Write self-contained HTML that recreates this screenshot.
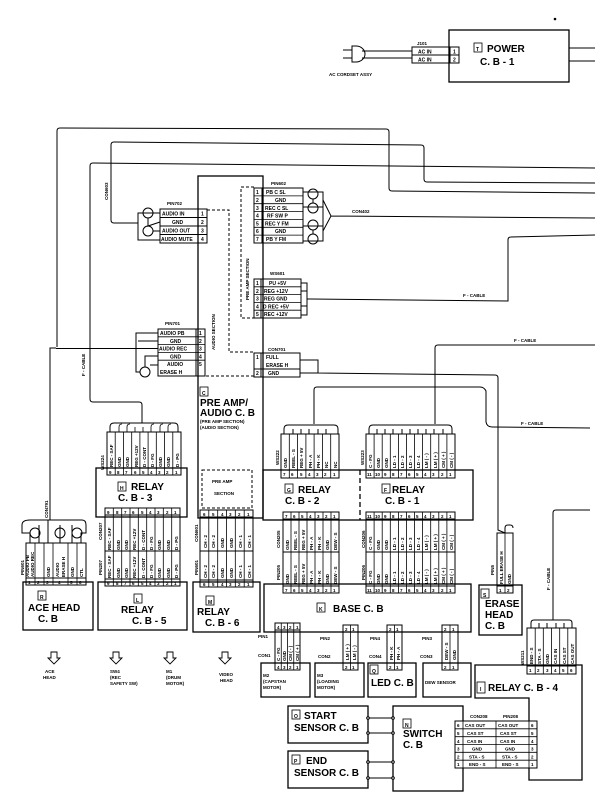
<!DOCTYPE html>
<html><head><meta charset="utf-8"><style>
html,body{margin:0;padding:0;background:#fff;}
svg{display:block;}
text{font-family:"Liberation Sans",sans-serif;font-weight:bold;fill:#000;}
.t{font-size:5px;}
.b{font-size:10px;}
.s{font-size:4.5px;}
</style></head><body>
<svg width="604" height="801" viewBox="0 0 604 801" xmlns="http://www.w3.org/2000/svg" fill="none" stroke="#000" stroke-width="1">
<!-- POWER -->
<rect x="449" y="30" width="120" height="52" stroke-width="1.3"/>
<rect x="474" y="43" width="8" height="9" stroke-width="0.8"/>
<text x="476" y="51" class="t" stroke="none">T</text>
<text x="487" y="52" class="b" stroke="none">POWER</text>
<text x="480" y="65" class="b" stroke="none">C.  B - 1</text>
<line x1="569" y1="48" x2="595" y2="48"/><line x1="569" y1="61" x2="595" y2="61"/>
<rect x="412" y="47" width="47" height="16"/>
<line x1="412" y1="55" x2="459" y2="55"/><line x1="450" y1="47" x2="450" y2="63"/>
<text x="418" y="53.5" class="t" stroke="none">AC  IN</text><text x="418" y="61.5" class="t" stroke="none">AC  IN</text>
<text x="453" y="53.5" class="t" stroke="none">1</text><text x="453" y="61.5" class="t" stroke="none">2</text>
<text x="417" y="45" class="s" stroke="none">J101</text>
<line x1="362" y1="51" x2="412" y2="51"/><line x1="362" y1="58" x2="412" y2="58"/>
<path d="M352 46 L356 46 A9 8 0 0 1 356 62 L352 62 Z"/>
<line x1="343" y1="50" x2="352" y2="50"/><line x1="343" y1="58" x2="352" y2="58"/>
<text x="329" y="76" class="s" stroke="none">AC  CORDSET  ASSY</text>
<!-- top loop lines -->
<path d="M57 347 L57 131 Q57 128 60 128 L386 129 Q389 129 389 132 L389 188 Q389 191 392 191 L595 193"/>
<path d="M138 223 L114 223 Q111 223 111 220 L111 145 Q111 142 114 142 L421 145 Q424 145 424 148 L424 179 Q424 182 427 182 L595 183"/>
<path d="M142 423 L142 405 Q142 402 139 402 L93 402 Q90 402 90 399 L90 166 Q90 163 93 163 L595 168"/>
<text transform="translate(108,200) rotate(-90)" class="s" stroke="none">CON603</text>
<text transform="translate(85,376) rotate(-90)" class="s" stroke="none">F - CABLE</text>
<!-- PRE AMP / AUDIO box -->
<rect x="198" y="176" width="65" height="342" stroke-width="1.3"/>
<rect x="200" y="387" width="8" height="9" stroke-width="0.8"/>
<text x="202" y="395" class="t" stroke="none">C</text>
<text x="200" y="406" class="b" stroke="none">PRE   AMP/</text>
<text x="200" y="416" class="b" stroke="none">AUDIO  C. B</text>
<text x="200" y="423" class="s" stroke="none">(PRE AMP SECTION)</text>
<text x="200" y="429" class="s" stroke="none">(AUDIO SECTION)</text>
<text transform="translate(215,350) rotate(-90)" class="s" stroke="none">AUDIO  SECTION</text>
<text transform="translate(249,300) rotate(-90)" class="s" stroke="none">PRE  AMP  SECTION</text>
<!-- dashed lines -->
<path d="M207 210 L229 210 L229 352 L254 352" stroke-dasharray="3,2"/>
<path d="M206 376 L254 376" stroke-dasharray="3,2"/>
<path d="M254 187 L241 187 L241 318 L254 318" stroke-dasharray="3,2"/>
<!-- PIN702 -->
<text x="167" y="205" class="s" stroke="none">PIN702</text>
<rect x="160" y="209" width="47" height="34"/>
<line x1="160" y1="217.5" x2="207" y2="217.5"/><line x1="160" y1="226" x2="207" y2="226"/><line x1="160" y1="234.5" x2="207" y2="234.5"/>
<line x1="198" y1="209" x2="198" y2="243"/>
<g stroke="none" class="t"><text x="162" y="215.5">AUDIO  IN</text><text x="172" y="224">GND</text><text x="162" y="232.5">AUDIO  OUT</text><text x="161" y="241">AUDIO MUTE</text>
<text x="201" y="215.5">1</text><text x="201" y="224">2</text><text x="201" y="232.5">3</text><text x="201" y="241">4</text></g>
<circle cx="148" cy="213" r="5"/><circle cx="148" cy="231" r="5"/>
<path d="M160 213 L138 213 L138 240 L160 240 M148 218 L148 226 L160 222 M153 231 L160 231"/>
<!-- PIN602 -->
<text x="271" y="185" class="s" stroke="none">PIN602</text>
<rect x="254" y="188" width="49" height="55"/>
<line x1="262" y1="188" x2="262" y2="243"/>
<g stroke-width="0.8"><line x1="254" y1="195.9" x2="303" y2="195.9"/><line x1="254" y1="203.7" x2="303" y2="203.7"/><line x1="254" y1="211.6" x2="303" y2="211.6"/><line x1="254" y1="219.4" x2="303" y2="219.4"/><line x1="254" y1="227.3" x2="303" y2="227.3"/><line x1="254" y1="235.1" x2="303" y2="235.1"/></g>
<g stroke="none" class="t"><text x="256" y="194">1</text><text x="256" y="202">2</text><text x="256" y="210">3</text><text x="256" y="217.5">4</text><text x="256" y="225.5">5</text><text x="256" y="233">6</text><text x="256" y="241">7</text>
<text x="266" y="194">PB  C  SL</text><text x="275" y="202">GND</text><text x="265" y="210">REC C  SL</text><text x="267" y="217.5">RF  SW  P</text><text x="265" y="225.5">REC Y  FM</text><text x="275" y="233">GND</text><text x="266" y="241">PB  Y  FM</text></g>
<circle cx="313" cy="194" r="5"/><circle cx="313" cy="208" r="5"/><circle cx="313" cy="225" r="5"/><circle cx="313" cy="239" r="5"/>
<path d="M303 192 L323 192 L323 241 L303 241 M303 207 L323 207 M303 226 L323 226 M313 199 L313 203 M313 230 L313 234 M323 200 L331 216 L323 231 M331 216 L595 218"/>
<text x="352" y="213" class="s" stroke="none">CON402</text>
<!-- WS601 -->
<text x="270" y="275" class="s" stroke="none">WS601</text>
<rect x="254" y="279" width="47" height="39"/>
<line x1="261" y1="279" x2="261" y2="318"/>
<g stroke-width="0.8"><line x1="254" y1="286.8" x2="301" y2="286.8"/><line x1="254" y1="294.6" x2="301" y2="294.6"/><line x1="254" y1="302.4" x2="301" y2="302.4"/><line x1="254" y1="310.2" x2="301" y2="310.2"/></g>
<g stroke="none" class="t"><text x="256" y="285">1</text><text x="256" y="293">2</text><text x="256" y="300.5">3</text><text x="256" y="308.5">4</text><text x="256" y="316">5</text>
<text x="269" y="285">PU  +5V</text><text x="264" y="293">REG  +12V</text><text x="264" y="300.5">REG  GND</text><text x="263" y="308.5">D  REC  +5V</text><text x="264" y="316">REC +12V</text></g>
<path d="M301 283 L307 283 L307 315 L301 315 M301 291 L307 291 M301 306 L307 306 M307 299 L311 299 L508 301 L508 240 Q508 237 511 237 L595 235"/>
<text x="463" y="297" class="s" stroke="none">F - CABLE</text>
<!-- PIN701 -->
<text x="165" y="325" class="s" stroke="none">PIN701</text>
<rect x="158" y="329" width="47" height="47"/>
<line x1="196" y1="329" x2="196" y2="376"/>
<g stroke-width="0.8"><line x1="158" y1="336.8" x2="205" y2="336.8"/><line x1="158" y1="344.6" x2="205" y2="344.6"/><line x1="158" y1="352.4" x2="205" y2="352.4"/><line x1="158" y1="360.2" x2="205" y2="360.2"/></g>
<g stroke="none" class="t"><text x="160" y="335">AUDIO  PB</text><text x="170" y="343">GND</text><text x="159" y="350.5">AUDIO  REC</text><text x="170" y="358.5">GND</text><text x="167" y="366">AUDIO</text><text x="160" y="374">ERASE  H</text>
<text x="199" y="335">1</text><text x="199" y="343">2</text><text x="199" y="350.5">3</text><text x="199" y="358.5">4</text><text x="199" y="366">5</text></g>
<circle cx="145" cy="372" r="5"/>
<path d="M158 333 L136 333 L136 372 L140 372 M158 341 L138 341 M158 356 L145 356 L145 367 M158 365 L150 365 M158 348.5 L56 348.5"/>
<!-- CON701 -->
<text x="268" y="351" class="s" stroke="none">CON701</text>
<rect x="254" y="353" width="46" height="24"/>
<line x1="261" y1="353" x2="261" y2="377"/><line x1="254" y1="369" x2="300" y2="369"/>
<g stroke="none" class="t"><text x="256" y="359">1</text><text x="256" y="375">2</text><text x="266" y="359">FULL</text><text x="266" y="367">ERASE  H</text><text x="268" y="375">GND</text></g>
<path d="M300 360 L318 360 L318 373 L300 373 M318 373 L495 375 Q498 375 498 378 L498 530 L505 533"/>
<path d="M435 424 L435 348 Q435 345 438 345 L595 345"/>
<text x="514" y="342" class="s" stroke="none">F - CABLE</text>
<path d="M314 424 L314 390 Q314 387 317 387 L480 387 Q484 387 486 391 L486 422 Q487 427 492 427 L590 428"/>
<text x="521" y="425" class="s" stroke="none">F - CABLE</text>
<!-- WS224 + H RELAY -->
<text transform="translate(104,470) rotate(-90)" class="s" stroke="none">WS224</text>
<path d="M110 432 L110 427 Q110 423 114 423 L174 423 Q178 423 178 427 L178 432"/>
<g stroke-width="0.8"><path d="M119 432 L119 427 Q119 424 122 424 M127 432 L127 427 Q127 424 130 424 M135 432 L135 427 M143 432 L143 427 M151 432 L151 427 Q151 424 154 424 M160 432 L160 427 Q160 424 163 424 M168 432 L168 427 Q168 424 171 424"/></g>
<rect x="96" y="468" width="91" height="49" stroke-width="1.3"/>
<rect x="107" y="432" width="74" height="43"/>
<line x1="107" y1="468" x2="181" y2="468"/>
<g stroke-width="0.8"><line x1="115.2" y1="432" x2="115.2" y2="475"/><line x1="123.4" y1="432" x2="123.4" y2="475"/><line x1="131.7" y1="432" x2="131.7" y2="475"/><line x1="139.9" y1="432" x2="139.9" y2="475"/><line x1="148.1" y1="432" x2="148.1" y2="475"/><line x1="156.3" y1="432" x2="156.3" y2="475"/><line x1="164.6" y1="432" x2="164.6" y2="475"/><line x1="172.8" y1="432" x2="172.8" y2="475"/></g>
<g stroke="none" class="s">
<text transform="translate(113,467) rotate(-90)">REC - SAF</text><text transform="translate(121,467) rotate(-90)">GND</text><text transform="translate(129,467) rotate(-90)">GND</text><text transform="translate(138,467) rotate(-90)">REG +12V</text><text transform="translate(146,467) rotate(-90)">D - CONT</text><text transform="translate(154,467) rotate(-90)">D - FG</text><text transform="translate(162,467) rotate(-90)">GND</text><text transform="translate(170,467) rotate(-90)">GND</text><text transform="translate(179,467) rotate(-90)">D - PG</text>
<text x="109" y="474">9</text><text x="117" y="474">8</text><text x="125" y="474">7</text><text x="134" y="474">6</text><text x="142" y="474">5</text><text x="150" y="474">4</text><text x="158" y="474">3</text><text x="166" y="474">2</text><text x="175" y="474">1</text></g>
<rect x="118" y="482" width="8" height="9" stroke-width="0.8"/>
<text x="120" y="490" class="t" stroke="none">H</text>
<text x="131" y="490" class="b" stroke="none">RELAY</text>
<text x="118" y="501" class="b" stroke="none">C.  B - 3</text>
<!-- CON207/PIN207 + L -->
<rect x="98" y="582" width="89" height="48" stroke-width="1.3"/>
<rect x="105" y="508" width="75" height="78"/>
<line x1="105" y1="515" x2="180" y2="515"/><line x1="105" y1="551" x2="180" y2="551"/><line x1="105" y1="579" x2="180" y2="579"/>
<g stroke-width="0.8"><line x1="113.3" y1="508" x2="113.3" y2="586"/><line x1="121.7" y1="508" x2="121.7" y2="586"/><line x1="130" y1="508" x2="130" y2="586"/><line x1="138.3" y1="508" x2="138.3" y2="586"/><line x1="146.7" y1="508" x2="146.7" y2="586"/><line x1="155" y1="508" x2="155" y2="586"/><line x1="163.3" y1="508" x2="163.3" y2="586"/><line x1="171.7" y1="508" x2="171.7" y2="586"/></g>
<text transform="translate(102,540) rotate(-90)" class="s" stroke="none">CON207</text>
<text transform="translate(102,575) rotate(-90)" class="s" stroke="none">PIN207</text>
<g stroke="none" class="s">
<text transform="translate(111,550) rotate(-90)">REC - SAF</text><text transform="translate(120,550) rotate(-90)">GND</text><text transform="translate(128,550) rotate(-90)">GND</text><text transform="translate(136,550) rotate(-90)">REC +12V</text><text transform="translate(145,550) rotate(-90)">D - CONT</text><text transform="translate(153,550) rotate(-90)">D - FG</text><text transform="translate(161,550) rotate(-90)">GND</text><text transform="translate(170,550) rotate(-90)">GND</text><text transform="translate(178,550) rotate(-90)">D - PG</text>
<text transform="translate(111,578) rotate(-90)">REC - SAF</text><text transform="translate(120,578) rotate(-90)">GND</text><text transform="translate(128,578) rotate(-90)">GND</text><text transform="translate(136,578) rotate(-90)">REC +12V</text><text transform="translate(145,578) rotate(-90)">D - CONT</text><text transform="translate(153,578) rotate(-90)">D - FG</text><text transform="translate(161,578) rotate(-90)">GND</text><text transform="translate(170,578) rotate(-90)">GND</text><text transform="translate(178,578) rotate(-90)">D - PG</text>
<text x="107" y="514">9</text><text x="116" y="514">8</text><text x="124" y="514">7</text><text x="132" y="514">6</text><text x="141" y="514">5</text><text x="149" y="514">4</text><text x="157" y="514">3</text><text x="166" y="514">2</text><text x="174" y="514">1</text>
<text x="107" y="585">9</text><text x="116" y="585">8</text><text x="124" y="585">7</text><text x="132" y="585">6</text><text x="141" y="585">5</text><text x="149" y="585">4</text><text x="157" y="585">3</text><text x="166" y="585">2</text><text x="174" y="585">1</text></g>
<rect x="134" y="594" width="8" height="9" stroke-width="0.8"/>
<text x="136" y="602" class="t" stroke="none">L</text>
<text x="121" y="613" class="b" stroke="none">RELAY</text>
<text x="132" y="624" class="b" stroke="none">C.  B - 5</text>
<!-- ACE HEAD -->
<text transform="translate(48,518) rotate(-90)" class="s" stroke="none">CON791</text>
<path d="M56 348 L50 348 L50 520"/>
<rect x="23" y="582" width="70" height="48" stroke-width="1.3"/>
<rect x="26" y="543" width="60" height="42"/>
<line x1="26" y1="578" x2="86" y2="578"/>
<g stroke-width="0.8"><line x1="35" y1="543" x2="35" y2="585"/><line x1="44" y1="543" x2="44" y2="585"/><line x1="53" y1="543" x2="53" y2="585"/><line x1="68" y1="543" x2="68" y2="585"/><line x1="77" y1="543" x2="77" y2="585"/></g>
<g stroke="none" class="s">
<text transform="translate(29,577) rotate(-90)">AUDIO  PB</text><text transform="translate(34,577) rotate(-90)">AUDIO  REC</text><text transform="translate(50,577) rotate(-90)">GND</text><text transform="translate(59,577) rotate(-90)">AUDIO</text><text transform="translate(65,577) rotate(-90)">ERASE  H</text><text transform="translate(74,577) rotate(-90)">GND</text><text transform="translate(83,577) rotate(-90)">CTL</text>
<text x="28" y="584">1</text><text x="37" y="584">2</text><text x="46" y="584">3</text><text x="58" y="584">4</text><text x="70" y="584">5</text><text x="79" y="584">6</text></g>
<text transform="translate(24,575) rotate(-90)" class="s" stroke="none">PIN601</text>
<path d="M30 543 L30 533 L22 533 L22 525 Q22 520 30 520 L82 520 Q86 520 86 525 L86 533 L81 533 L81 543 M39 543 L39 525 M48 543 L48 520 M60 543 L60 525 M72 543 L72 525"/>
<circle cx="35" cy="533" r="5"/><circle cx="60" cy="533" r="5"/><circle cx="77" cy="533" r="5"/>
<rect x="38" y="591" width="8" height="9" stroke-width="0.8"/>
<text x="40" y="599" class="t" stroke="none">R</text>
<text x="28" y="611" class="b" stroke="none">ACE   HEAD</text>
<text x="38" y="622" class="b" stroke="none">C.  B</text>
<!-- M RELAY -->
<rect x="202" y="470" width="50" height="38" stroke-dasharray="3,2"/>
<text x="212" y="483" class="s" stroke="none">PRE   AMP</text>
<text x="214" y="495" class="s" stroke="none">SECTION</text>
<rect x="193" y="582" width="67" height="50" stroke-width="1.3"/>
<rect x="200" y="510" width="53" height="77"/>
<line x1="200" y1="517" x2="253" y2="517"/><line x1="200" y1="551" x2="253" y2="551"/><line x1="200" y1="580" x2="253" y2="580"/>
<g stroke-width="0.8"><line x1="208.8" y1="510" x2="208.8" y2="587"/><line x1="217.7" y1="510" x2="217.7" y2="587"/><line x1="226.5" y1="510" x2="226.5" y2="587"/><line x1="235.3" y1="510" x2="235.3" y2="587"/><line x1="244.2" y1="510" x2="244.2" y2="587"/></g>
<text transform="translate(198,542) rotate(-90)" class="s" stroke="none">CON601</text>
<text transform="translate(198,575) rotate(-90)" class="s" stroke="none">PIN601</text>
<g stroke="none" class="s">
<text transform="translate(207,548) rotate(-90)">CH - 2</text><text transform="translate(215,548) rotate(-90)">CH - 2</text><text transform="translate(224,548) rotate(-90)">GND</text><text transform="translate(233,548) rotate(-90)">GND</text><text transform="translate(242,548) rotate(-90)">CH - 1</text><text transform="translate(251,548) rotate(-90)">CH - 1</text>
<text transform="translate(207,578) rotate(-90)">CH - 2</text><text transform="translate(215,578) rotate(-90)">CH - 2</text><text transform="translate(224,578) rotate(-90)">GND</text><text transform="translate(233,578) rotate(-90)">GND</text><text transform="translate(242,578) rotate(-90)">CH - 1</text><text transform="translate(251,578) rotate(-90)">CH - 1</text>
<text x="203" y="516">6</text><text x="212" y="516">5</text><text x="221" y="516">4</text><text x="229" y="516">3</text><text x="238" y="516">2</text><text x="247" y="516">1</text>
<text x="203" y="586">6</text><text x="212" y="586">5</text><text x="221" y="586">4</text><text x="229" y="586">3</text><text x="238" y="586">2</text><text x="247" y="586">1</text></g>
<rect x="206" y="596" width="8" height="9" stroke-width="0.8"/>
<text x="208" y="604" class="t" stroke="none">M</text>
<text x="197" y="615" class="b" stroke="none">RELAY</text>
<text x="205" y="626" class="b" stroke="none">C.  B - 6</text>
<!-- G/F RELAY -->
<rect x="263" y="470" width="210" height="50" stroke-width="1.3"/>
<line x1="360" y1="470" x2="360" y2="520" stroke-dasharray="5,3" stroke-width="1.3"/>
<text transform="translate(279,465) rotate(-90)" class="s" stroke="none">WS222</text>
<text transform="translate(364,465) rotate(-90)" class="s" stroke="none">WS223</text>
<path d="M284 434 L284 429 Q284 425 288 425 L334 425 Q338 425 338 429 L338 434 M293 434 L293 429 M301 434 L301 429 M309 434 L309 429 M318 434 L318 429 M326 434 L326 429"/>
<path d="M369 434 L369 429 Q369 425 373 425 L448 425 Q452 425 452 429 L452 434 M377 434 L377 429 M385 434 L385 429 M393 434 L393 429 M402 434 L402 429 M410 434 L410 429 M418 434 L418 429 M426 434 L426 429 M434 434 L434 429 M443 434 L443 429"/>
<rect x="281" y="434" width="58" height="44"/><line x1="281" y1="470" x2="339" y2="470"/>
<g stroke-width="0.8"><line x1="289.3" y1="434" x2="289.3" y2="478"/><line x1="297.6" y1="434" x2="297.6" y2="478"/><line x1="305.9" y1="434" x2="305.9" y2="478"/><line x1="314.1" y1="434" x2="314.1" y2="478"/><line x1="322.4" y1="434" x2="322.4" y2="478"/><line x1="330.7" y1="434" x2="330.7" y2="478"/></g>
<g stroke="none" class="s">
<text transform="translate(287,468) rotate(-90)">GND</text><text transform="translate(295,468) rotate(-90)">REEL - S</text><text transform="translate(303,468) rotate(-90)">REG + 5V</text><text transform="translate(312,468) rotate(-90)">PH - A</text><text transform="translate(320,468) rotate(-90)">PH - K</text><text transform="translate(328,468) rotate(-90)">NC</text><text transform="translate(337,468) rotate(-90)">NC</text>
<text x="283" y="476">7</text><text x="291" y="476">6</text><text x="300" y="476">5</text><text x="308" y="476">4</text><text x="316" y="476">3</text><text x="324" y="476">2</text><text x="333" y="476">1</text></g>
<rect x="366" y="434" width="89" height="44"/><line x1="366" y1="470" x2="455" y2="470"/>
<g stroke-width="0.8"><line x1="374.1" y1="434" x2="374.1" y2="478"/><line x1="382.2" y1="434" x2="382.2" y2="478"/><line x1="390.3" y1="434" x2="390.3" y2="478"/><line x1="398.4" y1="434" x2="398.4" y2="478"/><line x1="406.5" y1="434" x2="406.5" y2="478"/><line x1="414.5" y1="434" x2="414.5" y2="478"/><line x1="422.6" y1="434" x2="422.6" y2="478"/><line x1="430.7" y1="434" x2="430.7" y2="478"/><line x1="438.8" y1="434" x2="438.8" y2="478"/><line x1="446.9" y1="434" x2="446.9" y2="478"/></g>
<g stroke="none" class="s">
<text transform="translate(372,468) rotate(-90)">C - FG</text><text transform="translate(380,468) rotate(-90)">GND</text><text transform="translate(388,468) rotate(-90)">GND</text><text transform="translate(396,468) rotate(-90)">LD - 1</text><text transform="translate(404,468) rotate(-90)">LD - 2</text><text transform="translate(412,468) rotate(-90)">LD - 3</text><text transform="translate(420,468) rotate(-90)">LD - 4</text><text transform="translate(428,468) rotate(-90)">LM ( - )</text><text transform="translate(437,468) rotate(-90)">LM ( + )</text><text transform="translate(445,468) rotate(-90)">CM ( + )</text><text transform="translate(453,468) rotate(-90)">CM ( - )</text>
<text x="367" y="476">11</text><text x="375" y="476">10</text><text x="384" y="476">9</text><text x="392" y="476">8</text><text x="400" y="476">7</text><text x="408" y="476">6</text><text x="416" y="476">5</text><text x="424" y="476">4</text><text x="432" y="476">3</text><text x="441" y="476">2</text><text x="449" y="476">1</text></g>
<rect x="285" y="484" width="8" height="9" stroke-width="0.8"/>
<text x="287" y="492" class="t" stroke="none">G</text>
<text x="298" y="493" class="b" stroke="none">RELAY</text>
<text x="285" y="504" class="b" stroke="none">C.  B - 2</text>
<rect x="382" y="484" width="8" height="9" stroke-width="0.8"/>
<text x="384" y="492" class="t" stroke="none">F</text>
<text x="392" y="493" class="b" stroke="none">RELAY</text>
<text x="385" y="504" class="b" stroke="none">C.  B - 1</text>
<!-- CON205/PIN205 -->
<text transform="translate(280,548) rotate(-90)" class="s" stroke="none">CON205</text>
<text transform="translate(280,580) rotate(-90)" class="s" stroke="none">PIN205</text>
<text transform="translate(365,548) rotate(-90)" class="s" stroke="none">CON206</text>
<text transform="translate(365,580) rotate(-90)" class="s" stroke="none">PIN206</text>
<rect x="283" y="512" width="56" height="81"/>
<line x1="283" y1="519" x2="339" y2="519"/><line x1="283" y1="552" x2="339" y2="552"/><line x1="283" y1="586" x2="339" y2="586"/>
<g stroke-width="0.8"><line x1="291" y1="512" x2="291" y2="593"/><line x1="299" y1="512" x2="299" y2="593"/><line x1="307" y1="512" x2="307" y2="593"/><line x1="315" y1="512" x2="315" y2="593"/><line x1="323" y1="512" x2="323" y2="593"/><line x1="331" y1="512" x2="331" y2="593"/></g>
<g stroke="none" class="s">
<text transform="translate(289,550) rotate(-90)">GND</text><text transform="translate(297,550) rotate(-90)">REEL - S</text><text transform="translate(305,550) rotate(-90)">REG + 5V</text><text transform="translate(313,550) rotate(-90)">PH - A</text><text transform="translate(321,550) rotate(-90)">PH - K</text><text transform="translate(329,550) rotate(-90)">GND</text><text transform="translate(337,550) rotate(-90)">DEW - S</text>
<text transform="translate(289,584) rotate(-90)">GND</text><text transform="translate(297,584) rotate(-90)">REEL - S</text><text transform="translate(305,584) rotate(-90)">REG + 5V</text><text transform="translate(313,584) rotate(-90)">PH - A</text><text transform="translate(321,584) rotate(-90)">PH - K</text><text transform="translate(329,584) rotate(-90)">GND</text><text transform="translate(337,584) rotate(-90)">DEW - S</text>
<text x="285" y="518">7</text><text x="293" y="518">6</text><text x="301" y="518">5</text><text x="309" y="518">4</text><text x="317" y="518">3</text><text x="325" y="518">2</text><text x="333" y="518">1</text>
<text x="285" y="592">7</text><text x="293" y="592">6</text><text x="301" y="592">5</text><text x="309" y="592">4</text><text x="317" y="592">3</text><text x="325" y="592">2</text><text x="333" y="592">1</text></g>
<rect x="366" y="512" width="89" height="81"/>
<line x1="366" y1="519" x2="455" y2="519"/><line x1="366" y1="552" x2="455" y2="552"/><line x1="366" y1="586" x2="455" y2="586"/>
<g stroke-width="0.8"><line x1="374.1" y1="512" x2="374.1" y2="593"/><line x1="382.2" y1="512" x2="382.2" y2="593"/><line x1="390.3" y1="512" x2="390.3" y2="593"/><line x1="398.4" y1="512" x2="398.4" y2="593"/><line x1="406.5" y1="512" x2="406.5" y2="593"/><line x1="414.5" y1="512" x2="414.5" y2="593"/><line x1="422.6" y1="512" x2="422.6" y2="593"/><line x1="430.7" y1="512" x2="430.7" y2="593"/><line x1="438.8" y1="512" x2="438.8" y2="593"/><line x1="446.9" y1="512" x2="446.9" y2="593"/></g>
<g stroke="none" class="s">
<text transform="translate(372,550) rotate(-90)">C - FG</text><text transform="translate(380,550) rotate(-90)">GND</text><text transform="translate(388,550) rotate(-90)">GND</text><text transform="translate(396,550) rotate(-90)">LD - 1</text><text transform="translate(404,550) rotate(-90)">LD - 2</text><text transform="translate(412,550) rotate(-90)">LD - 3</text><text transform="translate(420,550) rotate(-90)">LD - 4</text><text transform="translate(428,550) rotate(-90)">LM ( - )</text><text transform="translate(437,550) rotate(-90)">LM ( + )</text><text transform="translate(445,550) rotate(-90)">CM ( + )</text><text transform="translate(453,550) rotate(-90)">CM ( - )</text>
<text transform="translate(372,584) rotate(-90)">C - FG</text><text transform="translate(380,584) rotate(-90)">GND</text><text transform="translate(388,584) rotate(-90)">GND</text><text transform="translate(396,584) rotate(-90)">LD - 1</text><text transform="translate(404,584) rotate(-90)">LD - 2</text><text transform="translate(412,584) rotate(-90)">LD - 3</text><text transform="translate(420,584) rotate(-90)">LD - 4</text><text transform="translate(428,584) rotate(-90)">LM ( - )</text><text transform="translate(437,584) rotate(-90)">LM ( + )</text><text transform="translate(445,584) rotate(-90)">CM ( + )</text><text transform="translate(453,584) rotate(-90)">CM ( - )</text>
<text x="367" y="518">11</text><text x="375" y="518">10</text><text x="384" y="518">9</text><text x="392" y="518">8</text><text x="400" y="518">7</text><text x="408" y="518">6</text><text x="416" y="518">5</text><text x="424" y="518">4</text><text x="432" y="518">3</text><text x="441" y="518">2</text><text x="449" y="518">1</text>
<text x="367" y="592">11</text><text x="375" y="592">10</text><text x="384" y="592">9</text><text x="392" y="592">8</text><text x="400" y="592">7</text><text x="408" y="592">6</text><text x="416" y="592">5</text><text x="424" y="592">4</text><text x="432" y="592">3</text><text x="441" y="592">2</text><text x="449" y="592">1</text></g>
<!-- K BASE -->
<rect x="264" y="584" width="207" height="48" stroke-width="1.3"/>
<rect x="317" y="603" width="8" height="9" stroke-width="0.8"/>
<text x="319" y="611" class="t" stroke="none">K</text>
<text x="333" y="612" class="b" stroke="none">BASE   C.  B</text>
<!-- small connectors -->
<rect x="275" y="623" width="25" height="47"/>
<line x1="275" y1="630" x2="300" y2="630"/><line x1="275" y1="663" x2="300" y2="663"/>
<g stroke-width="0.8"><line x1="281.25" y1="623" x2="281.25" y2="670"/><line x1="287.5" y1="623" x2="287.5" y2="670"/><line x1="293.75" y1="623" x2="293.75" y2="670"/></g>
<g stroke="none" class="s"><text transform="translate(280,661) rotate(-90)">C - FG</text><text transform="translate(286,661) rotate(-90)">GND</text><text transform="translate(292,661) rotate(-90)">CM ( - )</text><text transform="translate(299,661) rotate(-90)">CM ( + )</text>
<text x="277" y="629">4</text><text x="283" y="629">3</text><text x="289" y="629">2</text><text x="296" y="629">1</text><text x="277" y="669">4</text><text x="283" y="669">3</text><text x="289" y="669">2</text><text x="296" y="669">1</text>
<text x="258" y="638">PIN1</text><text x="258" y="657">CON1</text><text x="320" y="640">PIN2</text><text x="318" y="658">CON2</text><text x="370" y="640">PIN4</text><text x="369" y="658">CON4</text><text x="422" y="640">PIN3</text><text x="420" y="658">CON3</text></g>
<rect x="343" y="625" width="15" height="45"/><line x1="343" y1="632" x2="358" y2="632"/><line x1="343" y1="663" x2="358" y2="663"/><line x1="350.5" y1="625" x2="350.5" y2="670" stroke-width="0.8"/>
<rect x="387" y="625" width="15" height="45"/><line x1="387" y1="632" x2="402" y2="632"/><line x1="387" y1="663" x2="402" y2="663"/><line x1="394.5" y1="625" x2="394.5" y2="670" stroke-width="0.8"/>
<rect x="442" y="625" width="16" height="45"/><line x1="442" y1="632" x2="458" y2="632"/><line x1="442" y1="663" x2="458" y2="663"/><line x1="450" y1="625" x2="450" y2="670" stroke-width="0.8"/>
<g stroke="none" class="s"><text transform="translate(349,660) rotate(-90)">LM ( + )</text><text transform="translate(356,660) rotate(-90)">LM ( - )</text><text transform="translate(393,660) rotate(-90)">PH - K</text><text transform="translate(400,660) rotate(-90)">PH - A</text><text transform="translate(448,660) rotate(-90)">DEW - S</text><text transform="translate(456,660) rotate(-90)">GND</text>
<text x="345" y="631">2</text><text x="352" y="631">1</text><text x="345" y="669">2</text><text x="352" y="669">1</text><text x="389" y="631">2</text><text x="396" y="631">1</text><text x="389" y="669">2</text><text x="396" y="669">1</text><text x="444" y="631">2</text><text x="452" y="631">1</text><text x="444" y="669">2</text><text x="452" y="669">1</text></g>
<rect x="261" y="663" width="49" height="34" stroke-width="1.3"/>
<rect x="315" y="663" width="49" height="34" stroke-width="1.3"/>
<rect x="368" y="663" width="48" height="34" stroke-width="1.3"/>
<rect x="423" y="663" width="48" height="34" stroke-width="1.3"/>
<g stroke="none" class="s"><text x="263" y="677">M2</text><text x="263" y="683">(CAPSTAN</text><text x="263" y="689">MOTOR)</text>
<text x="317" y="677">M3</text><text x="317" y="683">(LOADING</text><text x="317" y="689">MOTOR)</text>
<text x="425" y="684">DEW  SENSOR</text></g>
<rect x="370" y="665" width="8" height="9" stroke-width="0.8"/>
<text x="372" y="673" class="t" stroke="none">Q</text>
<text x="371" y="686" class="b" stroke="none">LED C.  B</text>
<!-- ERASE HEAD -->
<rect x="479" y="585" width="43" height="50" stroke-width="1.3"/>
<rect x="497" y="533" width="16" height="60"/><line x1="497" y1="586" x2="513" y2="586"/><line x1="505" y1="533" x2="505" y2="593" stroke-width="0.8"/>
<path d="M505 533 L505 528 Q505 525 508 525 L510 525 Q513 525 513 528"/>
<g stroke="none" class="s"><text transform="translate(503,584) rotate(-90)">FULL  ERASE  H</text><text transform="translate(511,584) rotate(-90)">GND</text><text x="499" y="592">1</text><text x="507" y="592">2</text>
<text transform="translate(494,575) rotate(-90)">PIN5</text></g>
<rect x="481" y="589" width="8" height="9" stroke-width="0.8"/>
<text x="483" y="597" class="t" stroke="none">S</text>
<text x="485" y="607" class="b" stroke="none">ERASE</text>
<text x="485" y="618" class="b" stroke="none">HEAD</text>
<text x="485" y="629" class="b" stroke="none">C.  B</text>
<!-- I RELAY -->
<path d="M475 665 L582 665 L582 780 L529 780 L529 698 L475 698 Z" stroke-width="1.3"/>
<rect x="527" y="628" width="49" height="46"/><line x1="527" y1="666" x2="576" y2="666"/>
<g stroke-width="0.8"><line x1="535.2" y1="628" x2="535.2" y2="674"/><line x1="543.3" y1="628" x2="543.3" y2="674"/><line x1="551.5" y1="628" x2="551.5" y2="674"/><line x1="559.7" y1="628" x2="559.7" y2="674"/><line x1="567.8" y1="628" x2="567.8" y2="674"/></g>
<g stroke="none" class="s"><text transform="translate(533,664) rotate(-90)">END - S</text><text transform="translate(541,664) rotate(-90)">STA - S</text><text transform="translate(549,664) rotate(-90)">GND</text><text transform="translate(557,664) rotate(-90)">CAS  IN</text><text transform="translate(566,664) rotate(-90)">CAS  ST</text><text transform="translate(574,664) rotate(-90)">CAS  OUT</text>
<text x="529" y="672">1</text><text x="537" y="672">2</text><text x="546" y="672">3</text><text x="554" y="672">4</text><text x="562" y="672">5</text><text x="570" y="672">6</text>
<text transform="translate(524,665) rotate(-90)">WS211</text><text transform="translate(550,590) rotate(-90)">F - CABLE</text></g>
<path d="M531 628 L531 623 Q531 620 534 620 L569 620 Q572 620 572 623 L572 628 M539 628 L539 623 M547 628 L547 623 M556 628 L556 623 M564 628 L564 623 M553 620 L553 513 Q553 510 556 510 L590 510"/>
<rect x="477" y="682" width="8" height="11" stroke-width="0.8"/>
<text x="480" y="691" class="t" stroke="none">I</text>
<text x="488" y="691" class="b" stroke="none">RELAY  C.  B - 4</text>
<!-- START/END/SWITCH -->
<rect x="288" y="706" width="80" height="37" stroke-width="1.3"/>
<rect x="288" y="751" width="80" height="37" stroke-width="1.3"/>
<rect x="393" y="706" width="70" height="85" stroke-width="1.3"/>
<rect x="292" y="710" width="8" height="9" stroke-width="0.8"/><text x="294" y="718" class="t" stroke="none">O</text>
<text x="304" y="719" class="b" stroke="none">START</text><text x="294" y="731" class="b" stroke="none">SENSOR    C.  B</text>
<rect x="292" y="755" width="8" height="9" stroke-width="0.8"/><text x="294" y="763" class="t" stroke="none">P</text>
<text x="306" y="764" class="b" stroke="none">END</text><text x="294" y="776" class="b" stroke="none">SENSOR    C.  B</text>
<rect x="403" y="719" width="8" height="9" stroke-width="0.8"/><text x="405" y="727" class="t" stroke="none">N</text>
<text x="403" y="737" class="b" stroke="none">SWITCH</text><text x="403" y="748" class="b" stroke="none">C.   B</text>
<path d="M368 718 L393 718 M368 733 L393 733 M368 762 L393 762 M368 778 L393 778"/>
<g fill="#fff"><circle cx="368" cy="718" r="1.3"/><circle cx="393" cy="718" r="1.3"/><circle cx="368" cy="733" r="1.3"/><circle cx="393" cy="733" r="1.3"/><circle cx="368" cy="762" r="1.3"/><circle cx="393" cy="762" r="1.3"/><circle cx="368" cy="778" r="1.3"/><circle cx="393" cy="778" r="1.3"/></g>
<g stroke="none" class="s"><text x="470" y="718">CON208</text><text x="503" y="718">PIN208</text></g>
<rect x="455" y="721" width="82" height="47" fill="#fff"/>
<g stroke-width="0.8"><line x1="463" y1="721" x2="463" y2="768"/><line x1="496" y1="721" x2="496" y2="768"/><line x1="529" y1="721" x2="529" y2="768"/>
<line x1="455" y1="728.8" x2="537" y2="728.8"/><line x1="455" y1="736.7" x2="537" y2="736.7"/><line x1="455" y1="744.5" x2="537" y2="744.5"/><line x1="455" y1="752.3" x2="537" y2="752.3"/><line x1="455" y1="760.2" x2="537" y2="760.2"/></g>
<g stroke="none" class="s">
<text x="457" y="727">6</text><text x="457" y="735">5</text><text x="457" y="743">4</text><text x="457" y="750.5">3</text><text x="457" y="758.5">2</text><text x="457" y="766">1</text>
<text x="531" y="727">6</text><text x="531" y="735">5</text><text x="531" y="743">4</text><text x="531" y="750.5">3</text><text x="531" y="758.5">2</text><text x="531" y="766">1</text>
<text x="465" y="727">CAS  OUT</text><text x="467" y="735">CAS  ST</text><text x="467" y="743">CAS  IN</text><text x="472" y="750.5">GND</text><text x="469" y="758.5">STA - S</text><text x="469" y="766">END - S</text>
<text x="498" y="727">CAS  OUT</text><text x="500" y="735">CAS  ST</text><text x="500" y="743">CAS  IN</text><text x="505" y="750.5">GND</text><text x="502" y="758.5">STA - S</text><text x="502" y="766">END - S</text></g>
<!-- arrows -->
<g stroke-width="0.9">
<path d="M51 652 L57 652 L57 658 L60 658 L54 664 L48 658 L51 658 Z"/>
<path d="M113 652 L119 652 L119 658 L122 658 L116 664 L110 658 L113 658 Z"/>
<path d="M167 652 L173 652 L173 658 L176 658 L170 664 L164 658 L167 658 Z"/>
<path d="M222 652 L228 652 L228 658 L231 658 L225 664 L219 658 L222 658 Z"/>
</g>
<g stroke="none" class="s">
<text x="45" y="673">ACE</text><text x="43" y="679">HEAD</text>
<text x="110" y="673">SW4</text><text x="110" y="679">(REC</text><text x="110" y="685">SAFETY SW)</text>
<text x="166" y="673">M1</text><text x="166" y="679">(DRUM</text><text x="166" y="685">MOTOR)</text>
<text x="219" y="676">VIDEO</text><text x="220" y="682">HEAD</text>
</g>
<circle cx="555" cy="19" r="0.8" fill="#000"/>
</svg>
</body></html>
